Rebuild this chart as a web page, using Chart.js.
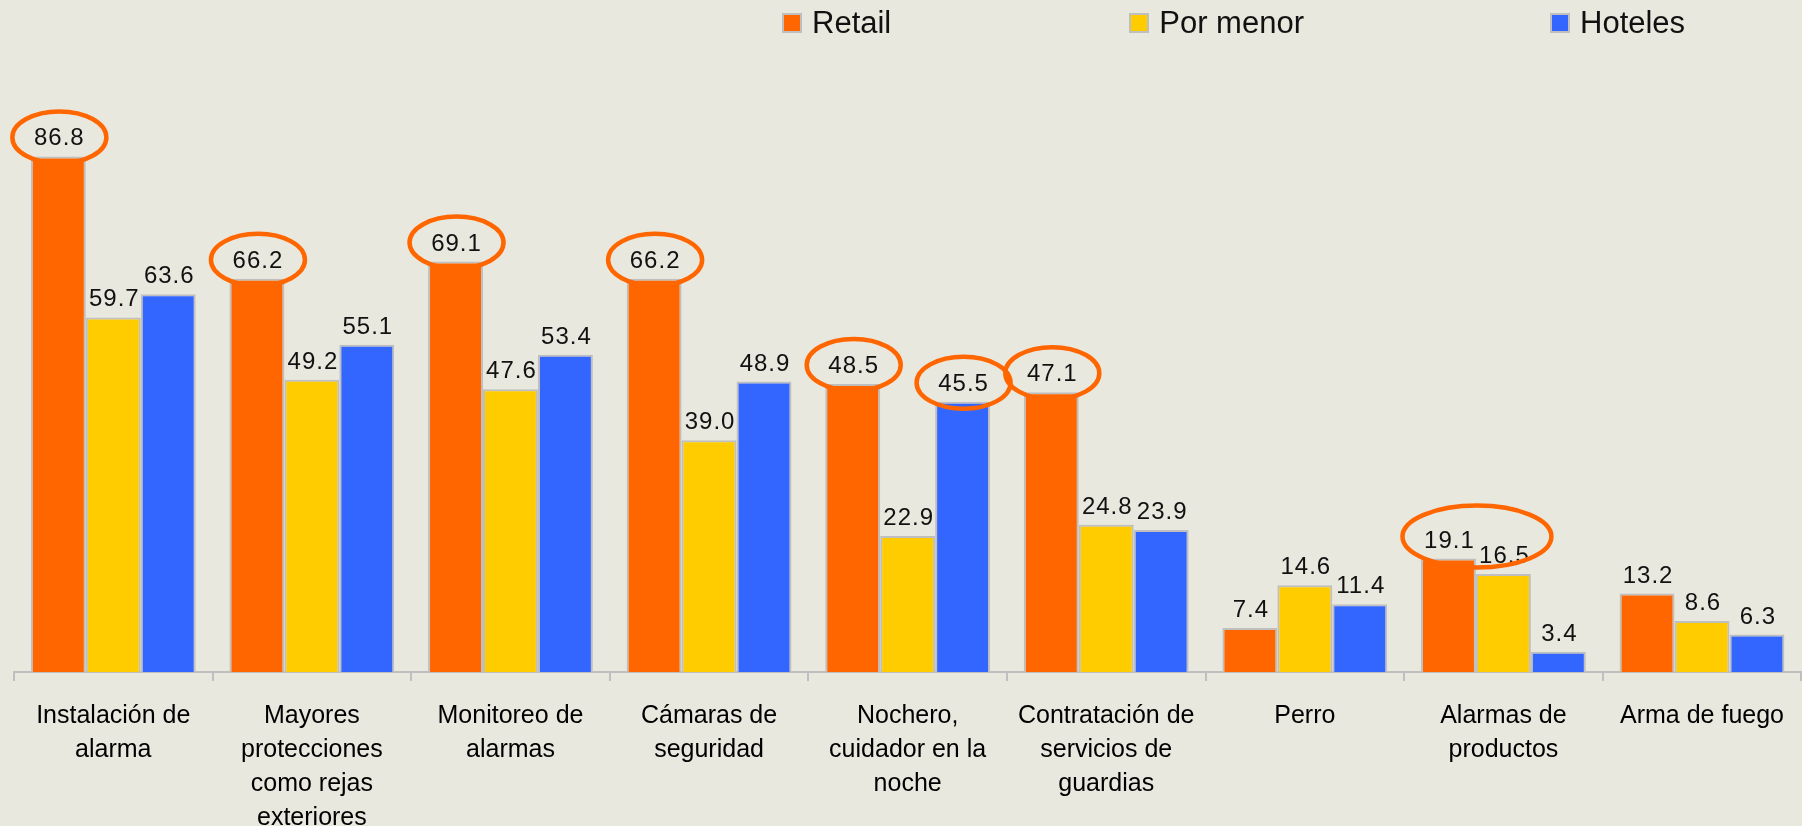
<!DOCTYPE html>
<html>
<head>
<meta charset="utf-8">
<script src="https://cdn.jsdelivr.net/npm/chart.js@4"></script>
<style>
  body { margin: 0; background: #E9E8DE; }
  #wrap { position: relative; width: 1802px; height: 826px; overflow: hidden; }
  #legend {
    position: absolute; left: 782px; top: 0; height: 46px; width: 1000px;
    display: flex; align-items: center; white-space: nowrap;
    font-family: 'Liberation Sans', Arial, sans-serif; font-size: 31px; color: #111;
  }
  .item { display: flex; align-items: center; flex-shrink: 0; margin-right: 238px; }
  .item:nth-child(2) { margin-right: 246px; }
  .item:last-child { margin-right: 0; }
  .box { width: 16px; height: 16px; border: 2px solid #BFBFBF; margin-right: 10px; flex-shrink: 0; }
</style>
</head>
<body>
<div id="wrap">
  <canvas id="myChart"></canvas>
  <div id="legend"></div>
</div>
<script>
const categories = [
    ['Instalación de', 'alarma'],
    ['Mayores', 'protecciones', 'como rejas', 'exteriores'],
    ['Monitoreo de', 'alarmas'],
    ['Cámaras de', 'seguridad'],
    ['Nochero,', 'cuidador en la', 'noche'],
    ['Contratación de', 'servicios de', 'guardias'],
    ['Perro'],
    ['Alarmas de', 'productos'],
    ['Arma de fuego']
];
const seriesNames = ['Retail', 'Por menor', 'Hoteles'];
const retail   = [86.8, 66.2, 69.1, 66.2, 48.5, 47.1, 7.4, 19.1, 13.2];
const porMenor = [59.7, 49.2, 47.6, 39.0, 22.9, 24.8, 14.6, 16.5, 8.6];
const hoteles  = [63.6, 55.1, 53.4, 48.9, 45.5, 23.9, 11.4, 3.4, 6.3];
const colors = ['#FF6600', '#FFCC00', '#3366FF'];

// valores resaltados con elipse: categoría + series
const highlights = [
    { cat: 0, series: [0] },
    { cat: 1, series: [0] },
    { cat: 2, series: [0] },
    { cat: 3, series: [0] },
    { cat: 4, series: [0] },
    { cat: 4, series: [2] },
    { cat: 5, series: [0] },
    { cat: 7, series: [0, 1] }
];

const valueLabels = {
    id: 'valueLabels',
    afterDatasetsDraw(chart) {
        const ctx = chart.ctx;
        ctx.save();
        ctx.font = '24px "Liberation Sans", Arial, sans-serif';
        ctx.letterSpacing = '1px';
        ctx.fillStyle = '#111';
        ctx.textAlign = 'center';
        ctx.textBaseline = 'alphabetic';
        chart.data.datasets.forEach((ds, i) => {
            chart.getDatasetMeta(i).data.forEach((bar, j) => {
                ctx.fillText(ds.data[j].toFixed(1), bar.x + 1, bar.y - 11);
            });
        });

        ctx.strokeStyle = '#FF6600';
        ctx.lineWidth = 4.5;
        highlights.forEach(h => {
            const bars = h.series.map(s => chart.getDatasetMeta(s).data[h.cat]);
            const xs = bars.map(b => b.x);
            const span = Math.max(...xs) - Math.min(...xs);
            const cx = (Math.max(...xs) + Math.min(...xs)) / 2 + 1;
            const single = bars.length === 1;
            const cy = Math.min(...bars.map(b => b.y)) - (single ? 19 : 22);
            const rx = 47 + span / 2;
            const ry = single ? 26 : 31;
            ctx.beginPath();
            ctx.ellipse(cx, cy, rx, ry, 0, 0, Math.PI * 2);
            ctx.stroke();
        });
        ctx.restore();
    }
};

const ctx = document.getElementById('myChart').getContext('2d');
const myChart = new Chart(ctx, {
    type: 'bar',
    data: {
        labels: categories,
        datasets: [retail, porMenor, hoteles].map((values, i) => ({
            label: seriesNames[i],
            data: values,
            backgroundColor: colors[i],
            borderColor: '#BFBFBF',
            borderWidth: 2,
            borderSkipped: 'start',
            categoryPercentage: 0.83,
            barPercentage: 1.0
        }))
    },
    options: {
        responsive: true,
        maintainAspectRatio: false,
        animation: false,
        layout: { padding: { top: 78, left: 14, right: 0, bottom: 0 } },
        plugins: {
            legend: { display: false },
            tooltip: { enabled: false }
        },
        scales: {
            y: { display: false, min: 0, max: 100 },
            x: {
                grid: {
                    offset: true,
                    drawOnChartArea: false,
                    drawTicks: true,
                    tickLength: 9,
                    color: '#BFBFBF',
                    lineWidth: 2
                },
                border: { color: '#BFBFBF', width: 2 },
                ticks: {
                    maxRotation: 0,
                    autoSkip: false,
                    padding: 18,
                    color: '#000',
                    font: { family: '"Liberation Sans", Arial, sans-serif', size: 25, lineHeight: 1.36 }
                },
                afterFit: scale => { scale.height = 154; }
            }
        }
    },
    plugins: [valueLabels]
});

// leyenda HTML
const legend = document.getElementById('legend');
seriesNames.forEach((name, i) => {
    const item = document.createElement('div');
    item.className = 'item';
    item.innerHTML = '<span class="box" style="background:' + colors[i] + '"></span>' + name;
    legend.appendChild(item);
});
</script>
</body>
</html>
